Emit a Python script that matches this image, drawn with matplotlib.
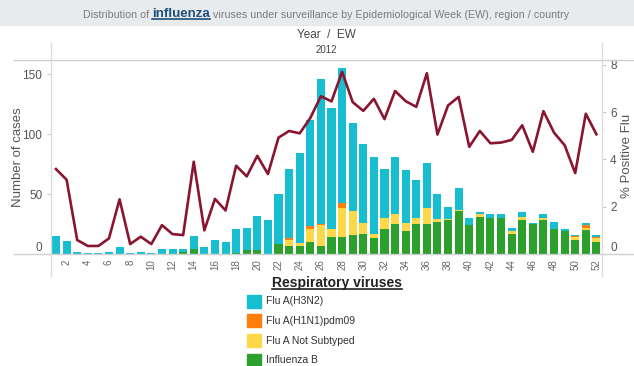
import numpy as np
import matplotlib.pyplot as plt
from matplotlib.lines import Line2D
from matplotlib.patches import Rectangle

plt.rcParams['font.family'] = ['Liberation Sans', 'DejaVu Sans']

weeks = np.arange(1, 53)

# cases per epidemiological week, stacked from the bottom up
flu_b = [0, 0, 0, 0, 0, 0, 0, 0, 0, 0, 0, 0, 2, 4, 0, 0, 0, 1, 3, 3,
         0, 8, 7, 7, 10, 7, 14, 14, 16, 17, 13, 21, 25, 19, 25, 25, 27, 28, 36, 24,
         31, 30, 30, 17, 28, 25, 28, 21, 19, 12, 20, 10]
not_subtyped = [0, 0, 0, 0, 0, 0, 0, 0, 0, 0, 0, 0, 0, 0, 0, 0, 0, 0, 0, 0,
                0, 0, 5, 2, 11, 17, 7, 24, 20, 9, 4, 9, 8, 7, 5, 13, 2, 1, 1, 0,
                2, 0, 0, 2, 3, 0, 2, 0, 0, 2, 2, 3]
h1n1 = [0, 0, 0, 0, 0, 0, 0, 0, 0, 0, 0, 0, 0, 0, 0, 0, 0, 0, 0, 0,
        0, 0, 1, 0, 2, 1, 0, 5, 0, 0, 0, 0, 0, 0, 0, 0, 0, 0, 0, 0,
        0, 0, 0, 0, 0, 0, 0, 0, 0, 1, 2, 1]
h3n2 = [15, 11, 2, 1, 1, 2, 6, 1, 2, 1, 4, 4, 2, 11, 6, 12, 10, 20, 19, 29,
        28, 42, 58, 75, 89, 121, 101, 112, 73, 66, 64, 41, 48, 44, 32, 38, 21, 10, 18, 6,
        2, 3, 3, 3, 4, 1, 3, 6, 2, 1, 2, 2]

pct_positive = [3.59, 3.14, 0.59, 0.34, 0.34, 0.66, 2.31, 0.42, 0.73, 0.42,
                1.22, 0.84, 0.80, 3.90, 1.00, 2.33, 1.84, 3.73, 3.28, 4.15,
                3.38, 4.92, 5.20, 5.10, 5.75, 6.67, 6.45, 7.70, 6.42, 6.05,
                6.56, 5.70, 6.89, 6.46, 6.22, 7.64, 5.05, 6.28, 6.64, 4.53,
                5.20, 4.68, 4.71, 4.82, 5.44, 4.32, 6.04, 5.13, 4.60, 3.42,
                5.93, 5.06]

series = [
    ('Influenza B', flu_b, '#2ca02c'),
    ('Flu A Not Subtyped', not_subtyped, '#ffd84a'),
    ('Flu A(H1N1)pdm09', h1n1, '#ff7f0e'),
    ('Flu A(H3N2)', h3n2, '#17becf'),
]
legend_order = ['Flu A(H3N2)', 'Flu A(H1N1)pdm09', 'Flu A Not Subtyped', 'Influenza B']

W, H = 634, 366
fig = plt.figure(figsize=(W / 100, H / 100), dpi=100)


def fx(px):
    return px / W


def fy(py):
    return 1 - py / H


x0, x1, y_top, y_base = 50.7, 601.7, 60, 254
ax = fig.add_axes([fx(x0), fy(y_base), fx(x1 - x0), (y_base - y_top) / H])

bottom = np.zeros(len(weeks))
for name, vals, col in series:
    ax.bar(weeks, vals, width=0.76, bottom=bottom, color=col, linewidth=0, zorder=2)
    bottom += np.array(vals)

ax.set_xlim(0.5, 52.5)
ax.set_ylim(0, 162)
ax.set_yticks([0, 50, 100, 150])
ax.set_xticks(range(2, 53, 2))
ax.set_xticklabels([str(w) for w in range(2, 53, 2)], rotation=90)
ax.tick_params(axis='x', length=0, pad=4, labelsize=7, labelcolor='#666666')
ax.tick_params(axis='y', length=3, color='#cccccc', pad=3, labelsize=8.5, labelcolor='#555555')
for s in ax.spines.values():
    s.set_visible(False)
ax.get_yticklabels()[0].set_va('bottom')
fig.text(fx(18), fy(157), 'Number of cases', rotation=90, ha='center', va='center',
         fontsize=9.5, color='#555555')

ax2 = ax.twinx()
ax2.plot(weeks, pct_positive, color='#8a1530', lw=1.9, solid_joinstyle='round', zorder=3)
ax2.set_ylim(0, 8.2)
ax2.set_yticks([0, 2, 4, 6, 8])
ax2.tick_params(axis='y', length=3, color='#cccccc', pad=3, labelsize=8.5, labelcolor='#555555')
for s in ax2.spines.values():
    s.set_visible(False)
ax2.get_yticklabels()[0].set_va('bottom')
fig.text(fx(627), fy(156), '% Positive Flu', rotation=90, ha='center', va='center',
         fontsize=9.5, color='#555555')

# frame lines of the view
line_col = '#cfcfcf'
for yy in (y_top, y_base):
    fig.add_artist(Line2D([fx(14), 1], [fy(yy), fy(yy)], transform=fig.transFigure,
                          color=line_col, lw=1))
for xx in (x0, x1):
    fig.add_artist(Line2D([fx(xx), fx(xx)], [fy(43), fy(276)], transform=fig.transFigure,
                          color='#dddddd', lw=1))

# header band and titles
fig.add_artist(Rectangle((0, fy(25)), 1, 25 / H, transform=fig.transFigure,
                         color='#e8ebee', zorder=0))
t1 = fig.text(0, fy(14.5), 'Distribution of ', ha='left', va='center',
              fontsize=7.7, color='#7a7a7a')
t2 = fig.text(0, fy(14), 'influenza', ha='left', va='center',
              fontsize=9.5, fontweight='bold', color='#1f4e79')
t3 = fig.text(0, fy(14.5), ' viruses under surveillance by Epidemiological Week (EW), region / country',
              ha='left', va='center', fontsize=7.7, color='#7a7a7a')
fig.text(fx(326), fy(35), 'Year  /  EW', ha='center', va='center', fontsize=8.5, color='#444444')
fig.text(fx(326), fy(50), '2012', ha='center', va='center', fontsize=7, color='#444444')

# legend
t_leg = fig.text(fx(337), fy(283), 'Respiratory viruses', ha='center', va='center',
                 fontsize=10, fontweight='bold', color='#222222')
colors = {name: col for name, vals, col in series}
for i, name in enumerate(legend_order):
    yc = 301 + i * 19.8
    fig.add_artist(Rectangle((fx(247), fy(yc + 6.5)), 14 / W, 13 / H,
                             transform=fig.transFigure, color=colors[name]))
    fig.text(fx(266), fy(yc), name, ha='left', va='center', fontsize=7.5, color='#333333')

# lay the title pieces side by side, centred on the header
fig.canvas.draw()
r = fig.canvas.get_renderer()
widths = [t.get_window_extent(r).width for t in (t1, t2, t3)]
xpos = 326 - sum(widths) / 2
for t, w in zip((t1, t2, t3), widths):
    t.set_x(fx(xpos))
    xpos += w

# underline the emphasised texts
fig.canvas.draw()
for t, col, off in ((t2, '#1f4e79', 1.5), (t_leg, '#222222', 1.5)):
    bb = t.get_window_extent(r)
    fig.add_artist(Line2D([bb.x0 / W, bb.x1 / W], [(bb.y0 + off) / H, (bb.y0 + off) / H],
                          transform=fig.transFigure, color=col, lw=1.2))

fig.savefig('out.png', dpi=100)
